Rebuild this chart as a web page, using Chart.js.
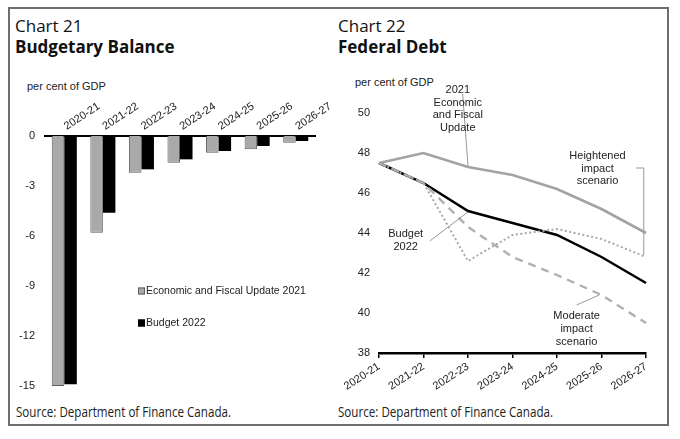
<html>
<head>
<script src="https://cdn.jsdelivr.net/npm/chart.js@4.4.0/dist/chart.umd.min.js"></script>
<style>
  body{margin:0;background:#fff;}
  .frame{position:absolute;left:8px;top:7px;width:657px;height:415px;border:2px solid #6e6e6e;}
  .t{position:absolute;font-family:'Open Sans',sans-serif;color:#111;white-space:nowrap;line-height:1;}
  .h1{font-size:17px;}
  .h2{font-size:17px;font-weight:bold;}
  .src{font-size:14px;transform:scaleX(0.83);transform-origin:0 0;color:#222;}
  .unit{position:absolute;font-family:'Liberation Sans',Arial,sans-serif;font-size:11px;line-height:11px;color:#222;white-space:nowrap;}
  canvas{position:absolute;}
</style>
</head>
<body>
<div class="frame"></div>
<div class="t h1" style="left:15px;top:17px">Chart 21</div>
<div class="t h2" style="left:15px;top:38px">Budgetary Balance</div>
<div class="t h1" style="left:338px;top:17px">Chart 22</div>
<div class="t h2" style="left:338px;top:38px">Federal Debt</div>
<div class="unit" style="left:27px;top:81px">per cent of GDP</div>
<div class="unit" style="left:355px;top:77px">per cent of GDP</div>
<canvas id="c21" width="320" height="340" style="left:10px;top:60px"></canvas>
<canvas id="c22" width="333" height="340" style="left:335px;top:60px"></canvas>
<div class="t src" style="left:16px;top:405px">Source: Department of Finance Canada.</div>
<div class="t src" style="left:338px;top:405px">Source: Department of Finance Canada.</div>
<script>
  eb=s=>document.getElementById(s);

  // fiscal years, shared by both charts
  var years = ['2020-21','2021-22','2022-23','2023-24','2024-25','2025-26','2026-27'];

  // chart 21 - budgetary balance, per cent of GDP
  var balanceEfu    = [-15.0, -5.8, -2.2, -1.6, -1.0, -0.8, -0.4];
  var balanceBudget = [-14.9, -4.6, -2.0, -1.4, -0.9, -0.6, -0.3];
  var balanceTicks  = [0, -3, -6, -9, -12, -15];

  // chart 22 - federal debt, per cent of GDP
  var debtEfu        = [47.5, 48.0, 47.3, 46.9, 46.2, 45.2, 44.0];
  var debtBudget     = [47.5, 46.5, 45.1, 44.5, 43.9, 42.8, 41.5];
  var debtHeightened = [47.5, 46.5, 42.6, 43.9, 44.2, 43.7, 42.8];
  var debtModerate   = [47.5, 46.5, 44.3, 42.8, 41.9, 40.9, 39.5];
  var debtTicks      = [38, 40, 42, 44, 46, 48, 50];

  // callouts on chart 22, anchored in data units (x = year index)
  var debtNotes = [
    {lines:['2021','Economic','and Fiscal','Update'], x:1.77, y:51.15, leader:[[1.88,50.95],[2.0,47.35]]},
    {lines:['Heightened','impact','scenario'], x:4.91, y:47.85, leader:[[5.78,47.25],[5.95,47.25],[5.95,42.9]]},
    {lines:['Budget','2022'], x:0.6, y:43.95, leader:[[1.14,43.6],[2.0,45.05]]},
    {lines:['Moderate','impact','scenario'], x:4.44, y:39.83, leader:[[4.44,40.4],[4.95,40.9]]}
  ];

  var font = "'Liberation Sans', Arial, sans-serif";
  Chart.defaults.font.family = font;
  Chart.defaults.font.size = 11;
  Chart.defaults.color = '#222';

  var balanceLegend = {
    id:'balanceLegend',
    afterDraw(chart){
      var ctx = chart.ctx, a = chart.chartArea;
      ctx.save();
      chart.data.datasets.forEach((ds,i)=>{
        var y = a.top + 155 + i*32;
        ctx.fillStyle = ds.backgroundColor;
        ctx.fillRect(a.left+93, y-3.5, 7, 7);
        ctx.strokeStyle = ds.borderColor || ds.backgroundColor;
        ctx.lineWidth = 1;
        ctx.strokeRect(a.left+93.5, y-3, 6, 6);
        ctx.fillStyle = '#222';
        ctx.font = '10.5px ' + font;
        ctx.textBaseline = 'middle';
        ctx.fillText(ds.label, a.left+101, y);
      });
      ctx.restore();
    }
  };

  var debtCallouts = {
    id:'debtCallouts',
    afterDatasetsDraw(chart){
      var ctx = chart.ctx, sx = chart.scales.x, sy = chart.scales.y;
      ctx.save();
      debtNotes.forEach(n=>{
        ctx.strokeStyle = '#999';
        ctx.lineWidth = 1;
        ctx.beginPath();
        n.leader.forEach((p,i)=>{
          var px = sx.getPixelForValue(p[0]), py = sy.getPixelForValue(p[1]);
          if (i) ctx.lineTo(px,py); else ctx.moveTo(px,py);
        });
        ctx.stroke();
        ctx.fillStyle = '#222';
        ctx.font = '11px ' + font;
        ctx.textAlign = 'center';
        ctx.textBaseline = 'middle';
        var cx = sx.getPixelForValue(n.x), cy = sy.getPixelForValue(n.y);
        n.lines.forEach((l,i)=>ctx.fillText(l, cx, cy + i*12.6));
      });
      ctx.restore();
    }
  };

  function c21(){
    new Chart(eb('c21'), {
      type:'bar',
      data:{
        labels:years,
        datasets:[
          {label:'Economic and Fiscal Update 2021', data:balanceEfu, backgroundColor:'#a9a9a9', borderColor:'#5f5f5f', borderWidth:1},
          {label:'Budget 2022', data:balanceBudget, backgroundColor:'#000', borderColor:'#000', borderWidth:0}
        ]
      },
      options:{
        responsive:false,
        animation:false,
        layout:{padding:{left:0, right:15, top:0, bottom:14}},
        datasets:{bar:{categoryPercentage:0.65, barPercentage:1}},
        plugins:{legend:{display:false}, tooltip:{enabled:false}},
        scales:{
          x:{
            position:'top', z:1,
            grid:{display:false, drawTicks:false},
            border:{display:true, color:'#000', width:2},
            ticks:{minRotation:33, maxRotation:33, padding:3, labelOffset:8},
            afterFit:s=>{s.height=76; s.paddingLeft=0; s.paddingRight=0;}
          },
          y:{
            min:-15, max:0,
            grid:{display:false, drawTicks:false},
            border:{display:false},
            ticks:{padding:10},
            afterBuildTicks:s=>{s.ticks=balanceTicks.map(v=>({value:v}));},
            afterFit:s=>{s.width=35; s.paddingTop=0; s.paddingBottom=0;}
          }
        }
      },
      plugins:[balanceLegend]
    });
  }

  function c22(){
    var line = (label,data,color,w,dash,order)=>({label:label, data:data, borderColor:color, backgroundColor:color,
      borderWidth:w, borderDash:dash, pointRadius:0, tension:0, fill:false, order:order});
    new Chart(eb('c22'), {
      type:'line',
      data:{
        labels:years,
        datasets:[
          line('2021 Economic and Fiscal Update', debtEfu, '#a3a3a3', 2.6, [], 1),
          line('Heightened impact scenario', debtHeightened, '#a8a8a8', 2, [2,2.5], 2),
          line('Moderate impact scenario', debtModerate, '#b0b0b0', 2.4, [8,6], 3),
          line('Budget 2022', debtBudget, '#000', 2.5, [], 4)
        ]
      },
      options:{
        responsive:false,
        animation:false,
        layout:{padding:{left:0, right:22, top:53, bottom:0}},
        plugins:{legend:{display:false}, tooltip:{enabled:false}},
        scales:{
          x:{
            grid:{display:true, drawOnChartArea:false, drawTicks:true, tickLength:5, color:'#000', lineWidth:1.5},
            border:{display:true, color:'#000', width:2.5},
            ticks:{minRotation:33, maxRotation:33, padding:2},
            afterFit:s=>{s.height=47; s.paddingLeft=0; s.paddingRight=0;}
          },
          y:{
            min:38, max:50,
            grid:{display:false, drawTicks:false},
            border:{display:false},
            ticks:{padding:9},
            afterBuildTicks:s=>{s.ticks=debtTicks.map(v=>({value:v}));},
            afterFit:s=>{s.width=44; s.paddingTop=0; s.paddingBottom=0;}
          }
        }
      },
      plugins:[debtCallouts]
    });
  }

  c21();
  c22();
</script>
</body>
</html>
